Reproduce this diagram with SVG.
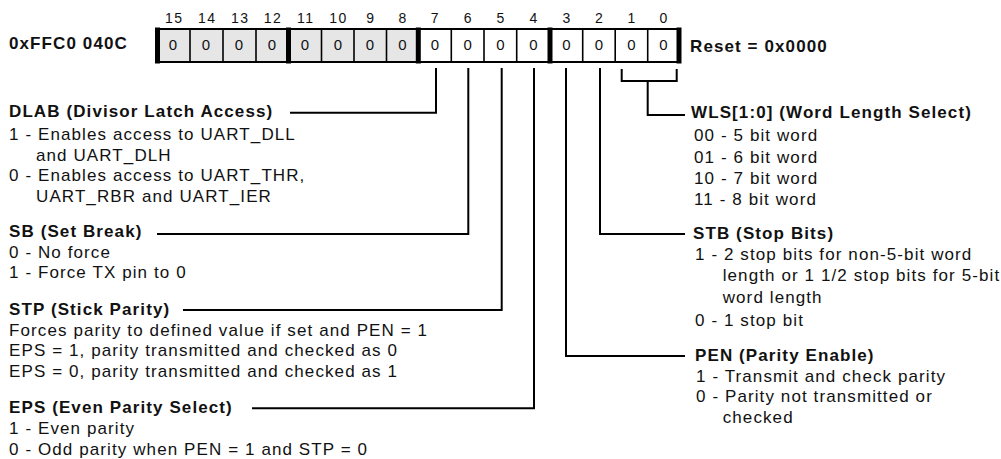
<svg xmlns="http://www.w3.org/2000/svg" width="1001" height="459" viewBox="0 0 1001 459">
<style>
.t{font-family:"Liberation Sans",Arial,sans-serif;font-size:17px;letter-spacing:1.1px;fill:#111}
.b{font-weight:bold}
.n{font-family:"Liberation Sans",Arial,sans-serif;font-size:14px;letter-spacing:1.5px;fill:#111;text-anchor:middle}
.d{font-family:"Liberation Sans",Arial,sans-serif;font-size:15px;fill:#111;text-anchor:middle}
.ln{stroke:#000;stroke-width:2;fill:none}
.thin{stroke:#000;stroke-width:1.6}
.thick{stroke:#000;stroke-width:5}
</style>
<rect width="1001" height="459" fill="#fff"/>
<g id="register">
<text class="t b" x="9" y="49">0xFFC0 040C</text>
<rect x="157" y="29" width="131.5" height="33" fill="#e6e6e6"/>
<rect x="288.5" y="29" width="129.8" height="33" fill="#e6e6e6"/>
<rect x="157" y="29" width="522.3" height="33" fill="none" stroke="#000" stroke-width="2"/>
<g class="thin">
<line x1="190" y1="29" x2="190" y2="62"/><line x1="223" y1="29" x2="223" y2="62"/><line x1="256" y1="29" x2="256" y2="62"/>
<line x1="321.5" y1="29" x2="321.5" y2="62"/><line x1="354" y1="29" x2="354" y2="62"/><line x1="386.5" y1="29" x2="386.5" y2="62"/>
<line x1="451.3" y1="29" x2="451.3" y2="62"/><line x1="484" y1="29" x2="484" y2="62"/><line x1="516.7" y1="29" x2="516.7" y2="62"/>
<line x1="582.7" y1="29" x2="582.7" y2="62"/><line x1="615.2" y1="29" x2="615.2" y2="62"/><line x1="647.7" y1="29" x2="647.7" y2="62"/>
</g>
<g class="thick">
<line x1="157.5" y1="27.5" x2="157.5" y2="63.5"/><line x1="288.5" y1="27.5" x2="288.5" y2="63.5"/><line x1="418.3" y1="27.5" x2="418.3" y2="63.5"/><line x1="550" y1="27.5" x2="550" y2="63.5"/><line x1="679" y1="27.5" x2="679" y2="63.5"/>
</g>
<g>
<text class="n" x="174.2" y="23">15</text><text class="n" x="207.2" y="23">14</text><text class="n" x="240.2" y="23">13</text><text class="n" x="273" y="23">12</text>
<text class="n" x="305.7" y="23">11</text><text class="n" x="338.5" y="23">10</text><text class="n" x="371" y="23">9</text><text class="n" x="403.1" y="23">8</text>
<text class="n" x="435.5" y="23">7</text><text class="n" x="468.4" y="23">6</text><text class="n" x="501.1" y="23">5</text><text class="n" x="534.1" y="23">4</text>
<text class="n" x="567.1" y="23">3</text><text class="n" x="599.7" y="23">2</text><text class="n" x="632.2" y="23">1</text><text class="n" x="664.2" y="23">0</text>
</g>
<g>
<text class="d" x="173" y="50">0</text><text class="d" x="206" y="50">0</text><text class="d" x="239" y="50">0</text><text class="d" x="272" y="50">0</text>
<text class="d" x="305" y="50">0</text><text class="d" x="338" y="50">0</text><text class="d" x="370" y="50">0</text><text class="d" x="402.4" y="50">0</text>
<text class="d" x="434.8" y="50">0</text><text class="d" x="467.7" y="50">0</text><text class="d" x="500.4" y="50">0</text><text class="d" x="533.4" y="50">0</text>
<text class="d" x="566.4" y="50">0</text><text class="d" x="599" y="50">0</text><text class="d" x="631.5" y="50">0</text><text class="d" x="663.5" y="50">0</text>
</g>
<text class="t b" x="690" y="51.5">Reset = 0x0000</text>
</g>
<g id="connectors" class="ln">
<path d="M436,68 V112.7 H290"/>
<path d="M468.3,68 V234 H157"/>
<path d="M501.7,68 V310 H183"/>
<path d="M534,68 V408.3 H252"/>
<path d="M566,68 V356 H685"/>
<path d="M600,68 V234 H685"/>
<path d="M621.7,69 V81 H676.7 V69"/>
<path d="M647.7,81 V115 H685"/>
</g>
<g id="dlab">
<text class="t b" x="9" y="117">DLAB (Divisor Latch Access)</text>
<text class="t" x="9" y="139.5">1 - Enables access to UART_DLL</text>
<text class="t" x="36" y="160.5">and UART_DLH</text>
<text class="t" x="9" y="181">0 - Enables access to UART_THR,</text>
<text class="t" x="36" y="202">UART_RBR and UART_IER</text>
</g>
<g id="sb">
<text class="t b" x="9" y="237">SB (Set Break)</text>
<text class="t" x="9" y="257.5">0 - No force</text>
<text class="t" x="9" y="278">1 - Force TX pin to 0</text>
</g>
<g id="stp">
<text class="t b" x="9" y="315">STP (Stick Parity)</text>
<text class="t" x="9" y="335.5">Forces parity to defined value if set and PEN = 1</text>
<text class="t" x="9" y="356">EPS = 1, parity transmitted and checked as 0</text>
<text class="t" x="9" y="376.5">EPS = 0, parity transmitted and checked as 1</text>
</g>
<g id="eps">
<text class="t b" x="9" y="413">EPS (Even Parity Select)</text>
<text class="t" x="9" y="433.5">1 - Even parity</text>
<text class="t" x="9" y="454.5">0 - Odd parity when PEN = 1 and STP = 0</text>
</g>
<g id="wls">
<text class="t b" x="691" y="117.5">WLS[1:0] (Word Length Select)</text>
<text class="t" x="694" y="141">00 - 5 bit word</text>
<text class="t" x="694" y="162.5">01 - 6 bit word</text>
<text class="t" x="694" y="183.5">10 - 7 bit word</text>
<text class="t" x="694" y="205">11 - 8 bit word</text>
</g>
<g id="stb">
<text class="t b" x="693" y="238.5">STB (Stop Bits)</text>
<text class="t" x="695" y="260">1 - 2 stop bits for non-5-bit word</text>
<text class="t" x="722.7" y="281">length or 1 1/2 stop bits for 5-bit</text>
<text class="t" x="722.7" y="303">word length</text>
<text class="t" x="695" y="325.5">0 - 1 stop bit</text>
</g>
<g id="pen">
<text class="t b" x="695" y="360.5">PEN (Parity Enable)</text>
<text class="t" x="696" y="381.5">1 - Transmit and check parity</text>
<text class="t" x="696" y="402">0 - Parity not transmitted or</text>
<text class="t" x="722.7" y="423">checked</text>
</g>
</svg>
